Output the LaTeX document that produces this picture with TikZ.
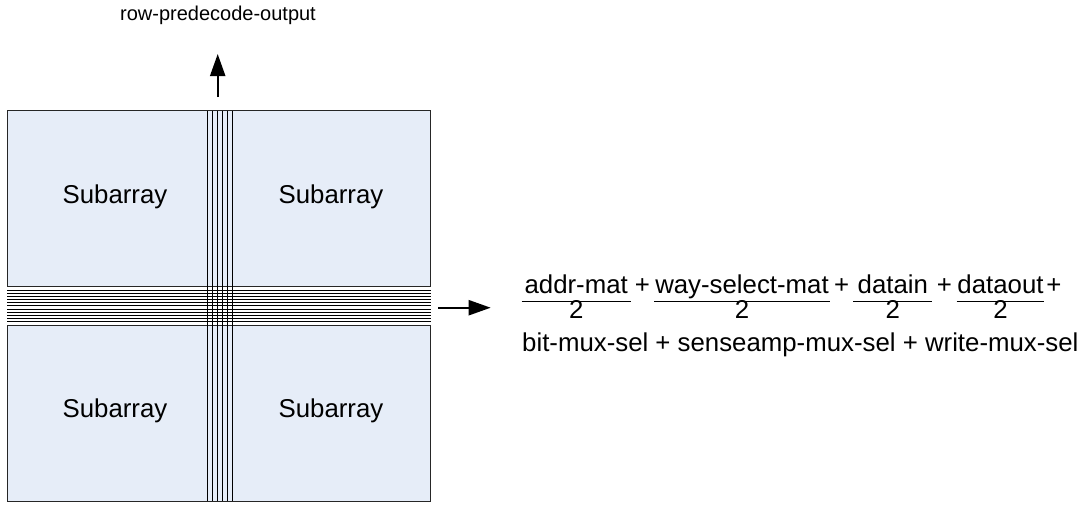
\documentclass[tikz,border=0pt]{standalone}
\usepackage{fontspec}
\setmainfont{Liberation Sans}
\usetikzlibrary{arrows.meta}
\definecolor{subfill}{RGB}{230,237,248}
\begin{document}
\begin{tikzpicture}[x=1pt,y=-1pt,
  box/.style={draw=black!85, line width=1pt, fill=subfill},
  wire/.style={draw=black, line width=0.8pt},
  lbl/.style={font=\fontsize{25.8}{30}\selectfont, inner sep=0pt, anchor=base},
  toplbl/.style={font=\fontsize{20}{24}\selectfont, inner sep=0pt, anchor=base},
  fracbar/.style={draw=black, line width=0.9pt},
  bigarrow/.style={draw=black, line width=2.2pt, -{Triangle[length=22pt,width=15pt]}}]
\useasboundingbox (0,0) rectangle (1083,504);
\fill[white] (0,0) rectangle (1083,504);
% subarray blocks
\path[box] (7.3,110.7) rectangle (430.7,286);
\path[box] (7.3,325.7) rectangle (430.7,501);
% horizontal wires
\foreach \i in {0,...,10} \draw[wire] (7.3,{290+\i*3.17}) -- (430.7,{290+\i*3.17});
% vertical wires
\foreach \x in {207.7,212.6,217.5,222.4,227.3,232.2} \draw[wire] (\x,110.7) -- (\x,501);
% labels
\node[lbl] (s1) at (115,203) {Subarray};
\node[lbl] (s2) at (331,203) {Subarray};
\node[lbl] (s3) at (115,417) {Subarray};
\node[lbl] (s4) at (331,417) {Subarray};
\node[toplbl] (rpo) at (218,20) {row-predecode-output};
% arrows
\coordinate (upstart) at (217.7,97);
\coordinate (uptip) at (217.7,54);
\draw[bigarrow] (upstart) -- (uptip);
\coordinate (rtstart) at (438.3,307.7);
\coordinate (rttip) at (490.7,307.7);
\draw[bigarrow] (rtstart) -- (rttip);
% formula
\node[lbl] (n1) at (576.2,293.3) {addr-mat};
\node[lbl] (n2) at (742,293.3) {way-select-mat};
\node[lbl] (n3) at (892.8,293.3) {datain};
\node[lbl] (n4) at (1000.5,293.3) {dataout};
\node[lbl] (p1) at (642.3,293.3) {+};
\node[lbl] (p2) at (841.7,293.3) {+};
\node[lbl] (p3) at (944.5,293.3) {+};
\node[lbl] (p4) at (1054,293.3) {+};
\draw[fracbar] (521.7,301.7) -- (630.7,301.7);
\draw[fracbar] (654,301.7) -- (830,301.7);
\draw[fracbar] (853.3,301.7) -- (932.3,301.7);
\draw[fracbar] (956.7,301.7) -- (1044.3,301.7);
\node[lbl] (d1) at (576.2,318.5) {2};
\node[lbl] (d2) at (742,318.5) {2};
\node[lbl] (d3) at (892.8,318.5) {2};
\node[lbl] (d4) at (1000.5,318.5) {2};
\node[lbl, anchor=base west] (bot) at (522,351.7) {bit-mux-sel + senseamp-mux-sel + write-mux-sel};
\end{tikzpicture}
\end{document}
